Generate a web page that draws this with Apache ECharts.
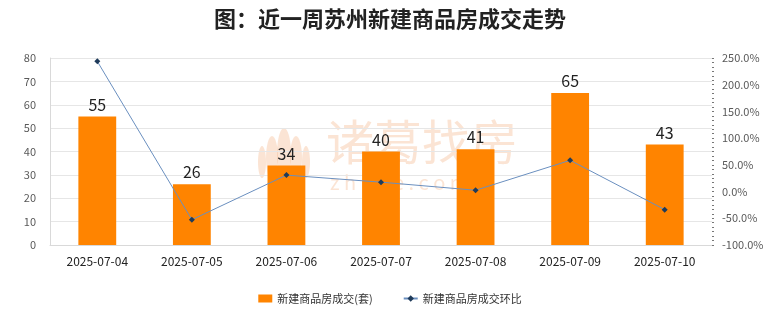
<!DOCTYPE html>
<html>
<head>
<meta charset="utf-8">
<script src="https://cdn.jsdelivr.net/npm/echarts@6/dist/echarts.min.js"></script>
<style>
html,body{margin:0;padding:0;background:#fff;}
#chart{width:780px;height:328px;}
</style>
</head>
<body>
<div id="chart"></div>
<script>
// Suzhou new commercial housing transactions, past week
const dates = ['2025-07-04','2025-07-05','2025-07-06','2025-07-07','2025-07-08','2025-07-09','2025-07-10'];
const deals = [55, 26, 34, 40, 41, 65, 43];
const changePct = [243.8, -52.7, 30.8, 17.6, 2.5, 58.5, -33.8];
const barName = '新建商品房成交(套)';
const lineName = '新建商品房成交环比';

const font = '"Noto Sans CJK SC", "Noto Sans", sans-serif';
const chart = echarts.init(document.getElementById('chart'), null, {renderer: 'canvas'});
const mark = 'rgba(243,170,120,0.32)';

chart.setOption({
  animation: false,
  textStyle: {fontFamily: font},
  title: {
    text: '图：近一周苏州新建商品房成交走势',
    left: 'center', top: 3,
    textStyle: {fontSize: 22, fontWeight: 'bold', color: '#222', fontFamily: font}
  },
  graphic: [{
    type: 'text', left: 326, top: 118, z: -10,
    style: {text: '诸葛找房', fontSize: 48, fontWeight: 'normal', fill: mark, fontFamily: font}
  }, {
    type: 'text', left: 330, top: 172, z: -10,
    style: {text: 'z h u g e . c o m', fontSize: 20, fill: mark, fontFamily: font}
  }, {
    type: 'group', left: 258, top: 128, z: -10,
    children: [
      {type: 'ellipse', shape: {cx: 26, cy: 26, rx: 7, ry: 26}, style: {fill: mark}},
      {type: 'ellipse', shape: {cx: 14, cy: 30, rx: 6, ry: 22}, style: {fill: mark}},
      {type: 'ellipse', shape: {cx: 38, cy: 30, rx: 6, ry: 22}, style: {fill: mark}},
      {type: 'ellipse', shape: {cx: 4, cy: 34, rx: 4, ry: 16}, style: {fill: mark}},
      {type: 'ellipse', shape: {cx: 48, cy: 34, rx: 4, ry: 16}, style: {fill: mark}}
    ]
  }],
  legend: {
    bottom: 19, left: 'center', itemGap: 30,
    itemWidth: 14, itemHeight: 8,
    textStyle: {fontSize: 11, color: '#333', fontFamily: font},
    data: [
      {name: barName, icon: 'rect', itemStyle: {color: '#ff8400'}},
      {name: lineName}
    ]
  },
  grid: {left: 50, right: 68, top: 58, bottom: 83},
  xAxis: {
    type: 'category', data: dates,
    axisLine: {lineStyle: {color: '#d9d9d9'}},
    axisTick: {show: false},
    axisLabel: {color: '#222', fontSize: 12, margin: 10, fontFamily: font}
  },
  yAxis: [{
    type: 'value', min: 0, max: 80, interval: 10,
    axisLine: {show: true, lineStyle: {color: '#d9d9d9'}},
    axisTick: {show: false},
    axisLabel: {color: '#595959', fontSize: 11, margin: 14},
    splitLine: {lineStyle: {color: '#e6e6e6'}}
  }, {
    type: 'value', min: -100, max: 250, interval: 50,
    axisLine: {show: false},
    axisTick: {show: true, length: 2, inside: false, lineStyle: {color: '#777'}},
    minorTick: {show: true, splitNumber: 6, length: 2, lineStyle: {color: '#777'}},
    axisLabel: {color: '#595959', fontSize: 11, margin: 10,
      formatter: v => v.toFixed(1) + '%'},
    splitLine: {show: false}
  }],
  series: [{
    name: barName, type: 'bar', data: deals, barWidth: '40%', z: 2,
    itemStyle: {color: '#ff8400'},
    label: {show: true, position: 'top', color: '#222', fontSize: 16, distance: 4}
  }, {
    name: lineName, type: 'line', yAxisIndex: 1, data: changePct, z: 3,
    symbol: 'diamond', symbolSize: 6,
    lineStyle: {color: '#6a8fbf', width: 1},
    itemStyle: {color: '#1f3b5a'}
  }]
});
</script>
</body>
</html>
